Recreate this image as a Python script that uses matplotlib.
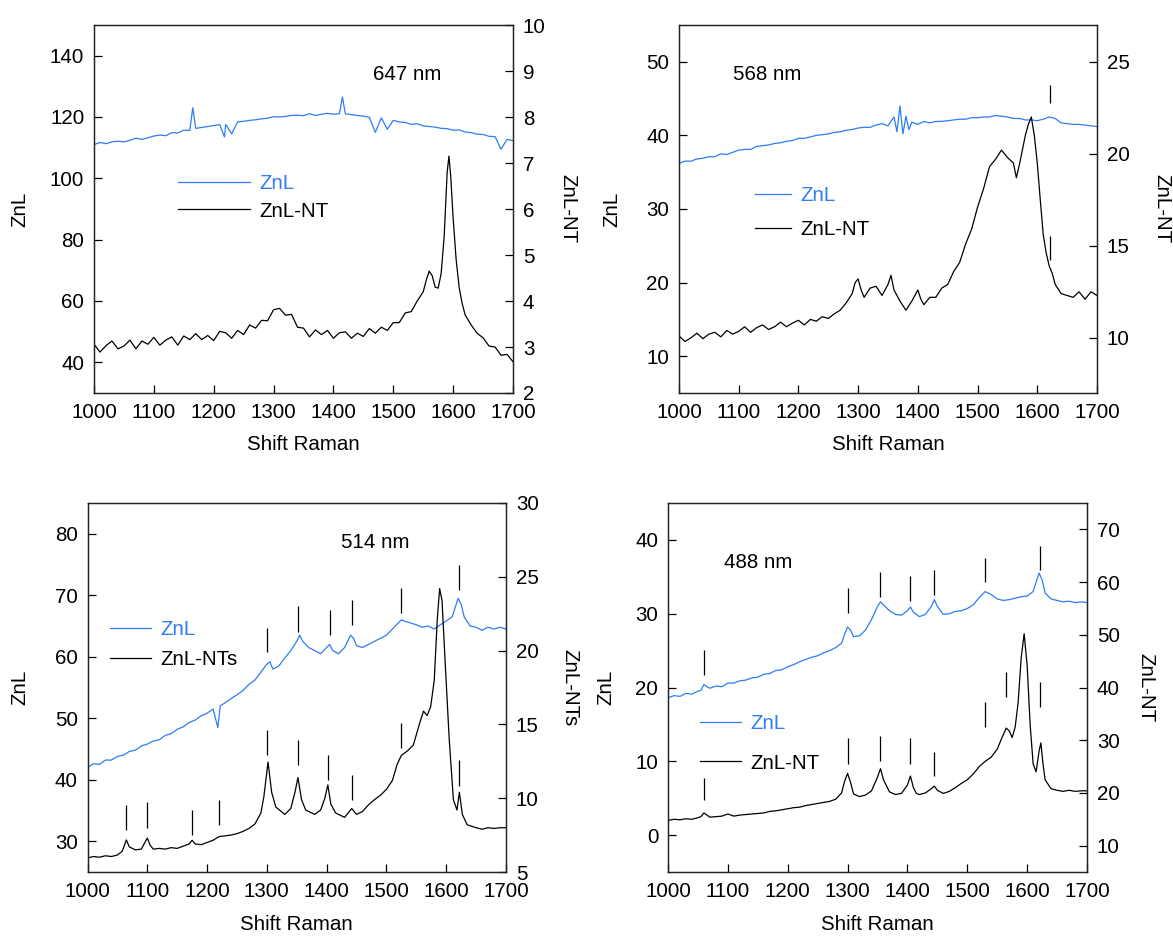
import matplotlib
matplotlib.use("Agg")
import matplotlib.pyplot as plt
from matplotlib.lines import Line2D

plt.rcParams["font.family"] = ["Liberation Sans", "DejaVu Sans"]

FS = 14.8
BLUE = "#2e7cf6"
BLACK = "#000000"

# ---------------------------------------------------------------- 647 nm
s647_znl_x = [1000, 1010, 1020, 1030, 1040, 1050, 1060, 1070, 1080, 1090, 1100, 1110, 1120, 1130,
              1140, 1150, 1160, 1165, 1170, 1180, 1190, 1200, 1210, 1218, 1220, 1230, 1240, 1250,
              1260, 1270, 1280, 1290, 1300, 1310, 1320, 1330, 1340, 1350, 1360, 1370, 1380, 1390,
              1400, 1410, 1415, 1420, 1430, 1440, 1450, 1460, 1470, 1480, 1490, 1500, 1510, 1520,
              1530, 1540, 1550, 1560, 1570, 1580, 1590, 1600, 1610, 1620, 1630, 1640, 1650, 1660,
              1670, 1680, 1690, 1700]
s647_znl_y = [111.0, 111.7, 111.3, 111.9, 112.1, 111.9, 112.4, 113.1, 112.7, 113.2, 113.8, 114.1,
              113.9, 114.9, 114.8, 115.7, 115.6, 123.0, 116.3, 116.6, 116.9, 117.2, 117.5, 113.5,
              117.6, 114.5, 118.4, 118.6, 118.9, 119.1, 119.4, 119.6, 120.1, 120.0, 120.2, 120.5,
              120.6, 120.4, 121.1, 120.5, 120.9, 121.2, 120.9, 121.1, 126.5, 121.0, 120.8, 120.5,
              120.3, 119.9, 115.0, 119.7, 116.0, 118.9, 118.4, 118.2, 117.6, 117.8, 117.1, 116.9,
              116.7, 116.3, 116.2, 115.7, 115.8, 115.1, 114.9, 114.4, 114.3, 113.7, 113.6, 109.5,
              112.7, 112.3]
s647_nt_x = [1000, 1010, 1020, 1030, 1040, 1050, 1060, 1070, 1080, 1090, 1100, 1110, 1120, 1130,
             1140, 1150, 1160, 1170, 1180, 1190, 1200, 1210, 1220, 1230, 1240, 1250, 1260, 1270,
             1280, 1290, 1300, 1310, 1320, 1330, 1340, 1350, 1360, 1370, 1380, 1390, 1400, 1410,
             1420, 1430, 1440, 1450, 1460, 1470, 1480, 1490, 1500, 1510, 1520, 1530, 1540, 1550,
             1555, 1560, 1565, 1570, 1575, 1580, 1585, 1590, 1593, 1596, 1600, 1605, 1610, 1615,
             1620, 1630, 1640, 1650, 1660, 1670, 1680, 1690, 1700]
s647_nt_y = [3.06, 2.89, 3.03, 3.13, 2.96, 3.02, 3.15, 2.96, 3.13, 3.06, 3.21, 3.04, 3.15, 3.22,
             3.04, 3.24, 3.16, 3.29, 3.16, 3.25, 3.14, 3.34, 3.31, 3.19, 3.36, 3.27, 3.48, 3.41,
             3.58, 3.57, 3.81, 3.84, 3.69, 3.71, 3.43, 3.41, 3.22, 3.37, 3.27, 3.36, 3.19, 3.31,
             3.33, 3.19, 3.30, 3.23, 3.40, 3.30, 3.43, 3.36, 3.53, 3.53, 3.74, 3.77, 4.00, 4.20,
             4.45, 4.65, 4.55, 4.30, 4.28, 4.60, 5.40, 6.80, 7.15, 6.70, 5.80, 4.90, 4.30, 3.95,
             3.70, 3.48, 3.30, 3.20, 3.02, 3.00, 2.82, 2.84, 2.68]

# ---------------------------------------------------------------- 568 nm
s568_znl_x = [1000, 1010, 1020, 1030, 1040, 1050, 1060, 1070, 1080, 1090, 1100, 1110, 1120, 1130,
              1140, 1150, 1160, 1170, 1180, 1190, 1200, 1210, 1220, 1230, 1240, 1250, 1260, 1270,
              1280, 1290, 1300, 1310, 1320, 1330, 1340, 1350, 1360, 1365, 1370, 1375, 1380, 1385,
              1390, 1400, 1410, 1420, 1430, 1440, 1450, 1460, 1470, 1480, 1490, 1500, 1510, 1520,
              1530, 1540, 1550, 1560, 1570, 1580, 1590, 1600, 1610, 1620, 1630, 1640, 1650, 1660,
              1670, 1680, 1690, 1700]
s568_znl_y = [36.2, 36.5, 36.5, 36.8, 36.9, 37.1, 37.1, 37.5, 37.4, 37.7, 38.0, 38.1, 38.1, 38.5,
              38.6, 38.7, 38.9, 39.0, 39.2, 39.3, 39.6, 39.6, 39.8, 40.0, 40.1, 40.2, 40.4, 40.5,
              40.7, 40.8, 41.0, 41.1, 41.1, 41.4, 41.6, 41.3, 42.5, 40.5, 44.0, 40.2, 42.6, 40.8,
              41.8, 41.5, 41.9, 41.7, 41.9, 41.9, 42.0, 42.1, 42.2, 42.2, 42.4, 42.4, 42.5, 42.5,
              42.7, 42.6, 42.5, 42.3, 42.3, 42.1, 42.1, 42.0, 42.2, 42.5, 42.3, 41.7, 41.6, 41.5,
              41.5, 41.4, 41.3, 41.2]
s568_nt_x = [1000, 1010, 1020, 1030, 1040, 1050, 1060, 1070, 1080, 1090, 1100, 1110, 1120, 1130,
             1140, 1150, 1160, 1170, 1180, 1190, 1200, 1210, 1220, 1230, 1240, 1250, 1260, 1270,
             1280, 1290, 1295, 1300, 1305, 1310, 1320, 1330, 1340, 1350, 1355, 1360, 1370, 1380,
             1390, 1400, 1405, 1410, 1420, 1430, 1440, 1450, 1460, 1470, 1480, 1490, 1500, 1510,
             1520, 1530, 1540, 1550, 1560, 1565, 1570, 1575, 1580, 1585, 1590, 1595, 1600, 1605,
             1610, 1615, 1620, 1625, 1630, 1640, 1650, 1660, 1670, 1680, 1690, 1700]
s568_nt_y = [10.1, 9.8, 10.0, 10.25, 9.95, 10.2, 10.3, 10.05, 10.4, 10.2, 10.35, 10.6, 10.3, 10.55,
             10.7, 10.45, 10.6, 10.85, 10.6, 10.8, 10.95, 10.7, 11.0, 10.9, 11.15, 11.05, 11.3,
             11.5, 11.9, 12.4, 13.0, 13.2, 12.6, 12.2, 12.7, 12.8, 12.3, 12.9, 13.4, 12.6, 12.0,
             11.5, 12.0, 12.6, 12.1, 11.8, 12.2, 12.2, 12.7, 12.9, 13.6, 14.1, 15.1, 15.9, 17.1,
             18.1, 19.3, 19.7, 20.2, 19.8, 19.5, 18.7, 19.4, 20.2, 21.0, 21.6, 22.0, 21.0, 19.5,
             17.5, 15.6, 14.6, 13.9, 13.5, 12.9, 12.4, 12.3, 12.2, 12.5, 12.1, 12.5, 12.3]

# ---------------------------------------------------------------- 514 nm
s514_znl_x = [1000, 1010, 1020, 1030, 1040, 1050, 1060, 1070, 1080, 1090, 1100, 1110, 1120, 1130,
              1140, 1150, 1160, 1170, 1180, 1190, 1200, 1210, 1218, 1222, 1230, 1240, 1250, 1260,
              1270, 1280, 1290, 1300, 1305, 1310, 1320, 1330, 1340, 1350, 1355, 1360, 1370, 1380,
              1390, 1400, 1405, 1410, 1420, 1430, 1440, 1445, 1450, 1460, 1470, 1480, 1490, 1500,
              1510, 1520, 1525, 1530, 1540, 1550, 1560, 1570, 1580, 1590, 1600, 1610, 1615, 1620,
              1625, 1630, 1640, 1650, 1660, 1670, 1680, 1690, 1700]
s514_znl_y = [42.0, 42.6, 42.5, 43.2, 43.2, 43.8, 44.0, 44.6, 44.8, 45.5, 45.8, 46.3, 46.5, 47.2,
              47.5, 48.2, 48.6, 49.3, 49.7, 50.4, 50.8, 51.5, 48.5, 52.0, 52.5, 53.2, 53.8, 54.5,
              55.5, 56.2, 57.5, 58.8, 59.2, 58.0, 58.5, 59.8, 61.0, 62.5, 63.5, 62.5, 61.5, 61.0,
              60.5, 61.5, 62.0, 61.0, 60.5, 61.5, 63.5, 63.0, 61.8, 61.5, 62.0, 62.5, 63.0, 63.5,
              64.5, 65.5, 66.0, 65.8, 65.5, 65.2, 64.8, 65.0, 64.5, 65.2, 65.8, 66.5, 68.0, 69.5,
              68.5, 66.5, 65.0, 64.8, 64.3, 64.8, 64.5, 64.8, 64.5]
s514_nt_x = [1000, 1010, 1020, 1030, 1040, 1050, 1058, 1065, 1070, 1080, 1090, 1100, 1105, 1110,
             1120, 1130, 1140, 1150, 1160, 1170, 1175, 1180, 1190, 1200, 1210, 1220, 1230, 1240,
             1250, 1260, 1270, 1280, 1290, 1295, 1302, 1308, 1315, 1330, 1340, 1347, 1352, 1358,
             1365, 1380, 1390, 1397, 1402, 1407, 1415, 1430, 1442, 1450, 1460, 1470, 1480, 1490,
             1500, 1510, 1518, 1525, 1535, 1545, 1555, 1562, 1568, 1574, 1580, 1585, 1589, 1593,
             1598, 1605, 1612, 1618, 1622, 1627, 1635, 1650, 1660, 1670, 1680, 1690, 1700]
s514_nt_y = [5.95, 6.05, 6.00, 6.10, 6.05, 6.15, 6.40, 7.17, 6.70, 6.50, 6.55, 7.30, 6.80, 6.55,
             6.60, 6.55, 6.65, 6.60, 6.75, 6.90, 7.15, 6.90, 6.85, 7.00, 7.15, 7.40, 7.45, 7.50,
             7.60, 7.75, 7.95, 8.25, 9.00, 10.10, 12.45, 10.40, 9.40, 8.90, 9.30, 10.40, 11.40,
             9.90, 9.20, 8.90, 9.20, 10.00, 10.90, 9.60, 9.00, 8.70, 9.30, 8.90, 9.10, 9.55, 9.90,
             10.20, 10.60, 11.20, 12.30, 12.90, 13.20, 13.60, 15.00, 15.90, 15.60, 16.20, 18.00,
             22.10, 24.20, 23.40, 19.40, 14.00, 9.90, 9.20, 10.40, 8.90, 8.20, 8.00, 7.90, 8.00,
             7.95, 8.00, 8.00]

# ---------------------------------------------------------------- 488 nm
s488_znl_x = [1000, 1010, 1020, 1030, 1040, 1050, 1055, 1060, 1065, 1070, 1080, 1090, 1100, 1110,
              1120, 1130, 1140, 1150, 1160, 1170, 1180, 1190, 1200, 1210, 1220, 1230, 1240, 1250,
              1260, 1270, 1280, 1290, 1295, 1300, 1305, 1310, 1320, 1330, 1340, 1350, 1355, 1360,
              1370, 1380, 1390, 1400, 1405, 1410, 1420, 1430, 1440, 1445, 1450, 1460, 1470, 1480,
              1490, 1500, 1510, 1520, 1530, 1540, 1550, 1560, 1570, 1580, 1590, 1600, 1610, 1615,
              1620, 1625, 1630, 1640, 1650, 1660, 1670, 1680, 1690, 1700]
s488_znl_y = [18.6, 18.9, 18.8, 19.2, 19.1, 19.5, 19.6, 20.4, 20.1, 19.9, 20.2, 20.1, 20.6, 20.6,
              20.9, 21.0, 21.3, 21.4, 21.8, 21.9, 22.3, 22.4, 22.8, 23.1, 23.5, 23.8, 24.1, 24.3,
              24.7, 25.0, 25.4, 26.0, 27.2, 28.2, 27.8, 26.9, 27.0, 27.8, 29.2, 31.0, 31.6, 31.2,
              30.4, 29.9, 29.8, 30.4, 30.9, 30.2, 29.6, 29.9, 31.0, 31.9, 31.0, 29.9, 30.0, 30.3,
              30.4, 30.7, 31.2, 32.2, 33.0, 32.6, 32.0, 31.8, 31.9, 32.1, 32.3, 32.4, 33.0, 34.3,
              35.5, 34.6, 32.8, 32.0, 31.8, 31.6, 31.7, 31.5, 31.6, 31.5]
s488_nt_x = [1000, 1010, 1020, 1030, 1040, 1050, 1055, 1060, 1065, 1070, 1080, 1090, 1100, 1105,
             1110, 1120, 1130, 1140, 1150, 1160, 1170, 1180, 1190, 1200, 1210, 1220, 1230, 1240,
             1250, 1260, 1270, 1280, 1290, 1295, 1300, 1305, 1310, 1320, 1330, 1340, 1350, 1355,
             1360, 1370, 1380, 1390, 1400, 1405, 1410, 1415, 1420, 1430, 1440, 1445, 1450, 1460,
             1470, 1480, 1490, 1500, 1510, 1520, 1530, 1540, 1550, 1558, 1565, 1570, 1575, 1580,
             1585, 1590, 1595, 1600, 1605, 1610, 1615, 1620, 1623, 1626, 1630, 1640, 1650, 1660,
             1670, 1680, 1690, 1700]
s488_nt_y = [14.8, 15.0, 14.9, 15.1, 15.0, 15.3, 15.5, 16.2, 15.8, 15.4, 15.5, 15.6, 16.0, 15.8,
             15.6, 15.8, 15.9, 16.0, 16.1, 16.2, 16.5, 16.6, 16.8, 17.0, 17.2, 17.3, 17.6, 17.8,
             18.0, 18.2, 18.4, 18.8, 20.0, 22.2, 23.7, 22.0, 19.8, 19.3, 19.6, 20.4, 23.0, 24.6,
             22.5, 20.2, 19.7, 19.9, 21.5, 23.2, 21.0, 19.9, 19.7, 20.0, 20.8, 21.3, 20.5, 19.9,
             20.3, 21.0, 21.8, 22.5, 23.6, 25.0, 26.0, 26.8, 28.3, 30.5, 32.3, 31.8, 30.5, 32.5,
             37.2, 45.6, 50.2, 44.2, 33.0, 25.5, 24.0, 28.0, 29.5, 26.0, 22.5, 20.8, 20.5, 20.3,
             20.5, 20.3, 20.4, 20.4]

# Peak markers: position, lower end, upper end (left-axis units)
mk568_x = [1622, 1622]
mk568_lo = [44.4, 23.1]
mk568_hi = [46.8, 26.3]

mk514_x = [1065, 1100, 1175, 1220, 1300, 1352, 1402, 1442, 1525, 1622,
           1300, 1352, 1405, 1442, 1525, 1622]
mk514_lo = [31.8, 32.2, 31.0, 32.6, 44.0, 42.4, 39.9, 36.7, 45.2, 39.0,
            60.8, 64.0, 63.5, 65.2, 67.1, 70.9]
mk514_hi = [35.9, 36.4, 35.1, 36.7, 48.1, 46.5, 44.0, 40.8, 49.2, 43.2,
            64.7, 68.3, 67.6, 69.2, 71.2, 74.9]

mk488_x = [1060, 1300, 1355, 1405, 1445, 1530, 1565, 1622,
           1060, 1300, 1355, 1405, 1445, 1530, 1622]
mk488_lo = [4.7, 9.7, 10.0, 9.7, 8.0, 14.7, 18.7, 17.3,
            21.7, 30.1, 32.2, 31.7, 32.5, 34.3, 35.9]
mk488_hi = [7.8, 13.1, 13.4, 13.1, 11.2, 18.0, 22.1, 20.7,
            25.1, 33.5, 35.6, 35.1, 35.9, 37.5, 39.2]

x_ticks = [1000, 1100, 1200, 1300, 1400, 1500, 1600, 1700]

W, H = 1173, 938

panels = [
    dict(rect=(94, 25, 513, 393), znl=(s647_znl_x, s647_znl_y), nt=(s647_nt_x, s647_nt_y),
         ylim=(30, 150), yticks=[40, 60, 80, 100, 120, 140],
         ylim2=(2, 10), yticks2=[2, 3, 4, 5, 6, 7, 8, 9, 10],
         label2="ZnL-NT", nt_label="ZnL-NT", tag="647 nm", tag_xy=(1523, 134.0),
         marks=None, leg=(0.20, 0.595, 3.5, 0.42), lab_l=74, lab_r=55),
    dict(rect=(679, 25, 1097, 393), znl=(s568_znl_x, s568_znl_y), nt=(s568_nt_x, s568_nt_y),
         ylim=(5, 55), yticks=[10, 20, 30, 40, 50],
         ylim2=(7, 27), yticks2=[10, 15, 20, 25],
         label2="ZnL-NT", nt_label="ZnL-NT", tag="568 nm", tag_xy=(1147, 48.3),
         marks=(mk568_x, mk568_lo, mk568_hi), leg=(0.182, 0.562, 1.75, 0.72), lab_l=67, lab_r=65),
    dict(rect=(87.5, 503, 506, 872), znl=(s514_znl_x, s514_znl_y), nt=(s514_nt_x, s514_nt_y),
         ylim=(25, 85), yticks=[30, 40, 50, 60, 70, 80],
         ylim2=(5, 30), yticks2=[5, 10, 15, 20, 25, 30],
         label2="ZnL-NTs", nt_label="ZnL-NTs", tag="514 nm", tag_xy=(1481, 78.5),
         marks=(mk514_x, mk514_lo, mk514_hi), leg=(0.054, 0.683, 2.0, 0.55), lab_l=67.5, lab_r=64),
    dict(rect=(668, 503, 1087, 872), znl=(s488_znl_x, s488_znl_y), nt=(s488_nt_x, s488_nt_y),
         ylim=(-5, 45), yticks=[0, 10, 20, 30, 40],
         ylim2=(5, 75), yticks2=[10, 20, 30, 40, 50, 60, 70],
         label2="ZnL-NT", nt_label="ZnL-NT", tag="488 nm", tag_xy=(1150, 37.0),
         marks=(mk488_x, mk488_lo, mk488_hi), leg=(0.076, 0.428, 2.0, 1.0), lab_l=62, lab_r=59),
]

fig = plt.figure(figsize=(W / 100, H / 100), dpi=100)

for p in panels:
    x0, y0, x1, y1 = p["rect"]
    ax = fig.add_axes([x0 / W, 1 - y1 / H, (x1 - x0) / W, (y1 - y0) / H])
    ax2 = ax.twinx()
    width_px = x1 - x0
    height_px = y1 - y0

    ax.plot(p["znl"][0], p["znl"][1], color=BLUE, lw=0.9)
    ax2.plot(p["nt"][0], p["nt"][1], color=BLACK, lw=0.9)

    if p["marks"] is not None:
        ax.vlines(p["marks"][0], p["marks"][1], p["marks"][2], color=BLACK, lw=0.9)

    ax.set_xlim(1000, 1700)
    ax.set_ylim(*p["ylim"])
    ax2.set_ylim(*p["ylim2"])
    ax.set_xticks(x_ticks)
    ax.set_yticks(p["yticks"])
    ax2.set_yticks(p["yticks2"])

    ax.tick_params(axis="both", direction="in", length=6, width=0.9, labelsize=FS, pad=7,
                   top=False, right=False)
    ax2.tick_params(axis="y", direction="in", length=6, width=0.9, labelsize=FS, pad=7)
    for a in (ax, ax2):
        for s in a.spines.values():
            s.set_linewidth(0.9)
            s.set_color("#222222")

    ax.set_xlabel("Shift Raman", fontsize=FS, va="center")
    ax.xaxis.set_label_coords(0.5, -52 / height_px)
    ax.set_ylabel("ZnL", fontsize=FS, rotation=90, va="center")
    ax.yaxis.set_label_coords(-p["lab_l"] / width_px, 0.5)
    ax2.set_ylabel(p["label2"], fontsize=FS, rotation=270, va="center")
    ax2.yaxis.set_label_coords(1 + p["lab_r"] / width_px, 0.5)

    ax.text(p["tag_xy"][0], p["tag_xy"][1], p["tag"], fontsize=FS, ha="center", va="center")

    lx, ly, hl, ls = p["leg"]
    handles = [Line2D([], [], color=BLUE, lw=0.9), Line2D([], [], color=BLACK, lw=0.9)]
    leg = ax2.legend(handles, ["ZnL", p["nt_label"]], loc="upper left",
                     bbox_to_anchor=(lx, ly), frameon=False, fontsize=FS,
                     handlelength=hl, handletextpad=0.45, labelspacing=ls,
                     borderpad=0, borderaxespad=0)
    leg.get_texts()[0].set_color(BLUE)

fig.savefig("out.png", dpi=100)
